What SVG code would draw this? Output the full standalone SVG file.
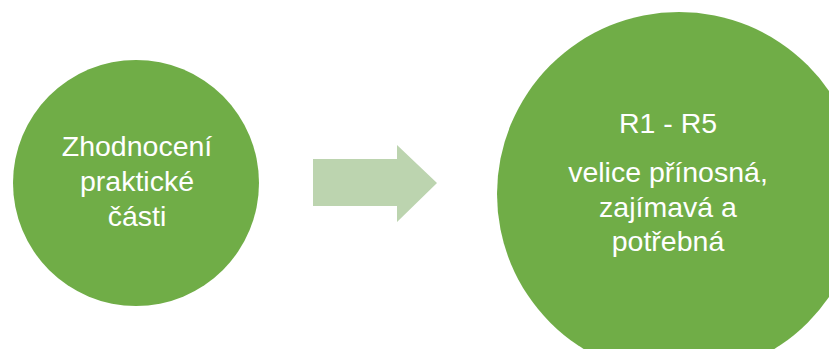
<svg xmlns="http://www.w3.org/2000/svg" width="829" height="349" viewBox="0 0 829 349">
  <style>
    .node { fill: #70AD47; }
    .label { fill: #FFFFFF; font-family: "Liberation Sans", "DejaVu Sans", sans-serif; font-size: 28.5px; text-anchor: middle; }
    .flow { fill: #BCD4AF; }
  </style>
  <rect width="829" height="349" fill="#FFFFFF"/>
  <g id="node-zhodnoceni">
    <circle class="node" cx="136" cy="183" r="123"/>
    <text class="label" x="137" y="156">Zhodnocení</text>
    <text class="label" x="137" y="191">praktické</text>
    <text class="label" x="137" y="226">části</text>
  </g>
  <g id="connectors">
    <polygon class="flow" points="313,159 397,159 397,145 437,183 397,222 397,206 313,206"/>
  </g>
  <g id="node-r1-r5">
    <circle class="node" cx="679" cy="194" r="182"/>
    <text class="label" x="668" y="133">R1 - R5</text>
    <text class="label" x="668" y="182">velice přínosná,</text>
    <text class="label" x="668" y="217">zajímavá a</text>
    <text class="label" x="668" y="251">potřebná</text>
  </g>
</svg>
